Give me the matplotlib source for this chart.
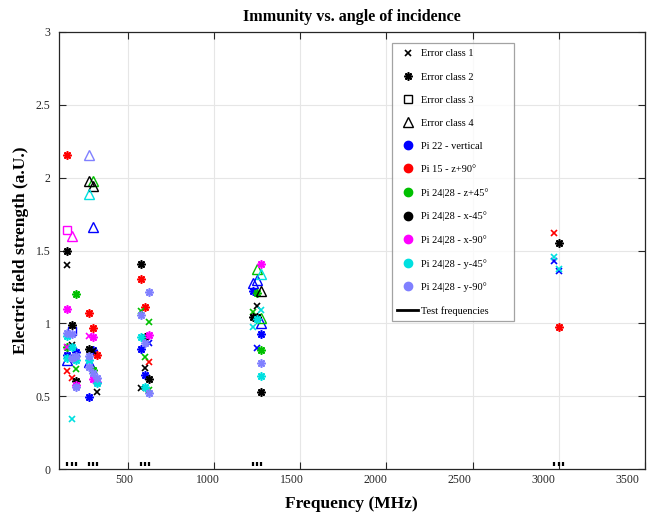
import matplotlib
matplotlib.use("Agg")
import matplotlib.pyplot as plt
from matplotlib.lines import Line2D
from matplotlib.transforms import ScaledTranslation

plt.rcParams['font.family'] = ['Liberation Serif', 'DejaVu Serif']

# Test frequencies (MHz)
test_freqs = [150, 175, 200, 275, 300, 325, 575, 600, 625, 1225, 1250, 1275, 2975, 3000, 3025]

# Per probe: frequency (MHz), field strength (a.U.), error class
pi22_f = [175, 150, 300, 275, 150, 200, 300, 275, 575, 600, 625, 1225, 1250, 1275, 1225, 1275, 1250, 2975, 3000]
pi22_v = [0.947, 0.748, 1.663, 0.737, 0.78, 0.805, 0.82, 0.497, 0.822, 0.645, 0.863, 1.28, 1.30, 1.004, 1.224, 0.927, 0.833, 1.43, 1.36]
pi22_c = [3, 4, 4, 4, 2, 2, 2, 2, 2, 2, 1, 4, 4, 4, 2, 2, 1, 1, 1]

pi15_f = [150, 150, 175, 275, 300, 325, 575, 600, 625, 2975, 3000]
pi15_v = [2.156, 0.673, 0.627, 1.069, 0.966, 0.785, 1.302, 1.11, 0.737, 1.62, 0.973]
pi15_c = [2, 1, 1, 2, 2, 2, 2, 2, 1, 1, 2]

z45_f = [200, 150, 200, 300, 300, 575, 625, 600, 625, 1250, 1250, 1225, 1275, 1275]
z45_v = [1.199, 0.84, 0.684, 1.98, 0.68, 1.087, 1.007, 0.767, 0.542, 1.373, 1.21, 1.08, 1.04, 0.817]
z45_c = [2, 2, 1, 4, 2, 1, 1, 1, 1, 4, 2, 1, 4, 2]

xm45_f = [150, 150, 175, 175, 200, 275, 300, 275, 300, 325, 575, 600, 600, 625, 575, 1250, 1225, 1250, 1275, 1275, 3000]
xm45_v = [1.497, 1.398, 0.989, 0.851, 0.604, 1.977, 1.94, 0.822, 0.81, 0.526, 1.407, 0.904, 0.696, 0.618, 0.554, 1.121, 1.046, 1.046, 1.224, 0.526, 1.55]
xm45_c = [2, 1, 2, 1, 2, 4, 4, 2, 1, 1, 2, 2, 1, 2, 1, 1, 2, 2, 4, 2, 2]

xm90_f = [150, 175, 150, 150, 275, 300, 200, 300, 325, 625, 1275]
xm90_v = [1.64, 1.60, 1.096, 0.835, 0.913, 0.904, 0.58, 0.62, 0.60, 0.92, 1.405]
xm90_c = [3, 4, 2, 1, 1, 2, 2, 2, 2, 2, 2]

ym45_f = [150, 175, 175, 150, 200, 275, 275, 325, 575, 600, 1275, 1275, 1225, 1250, 1275, 2975, 3000]
ym45_v = [0.913, 0.835, 0.343, 0.76, 0.75, 1.886, 0.75, 0.59, 0.904, 0.56, 1.336, 1.09, 0.977, 1.03, 0.641, 1.455, 1.375]
ym45_c = [2, 2, 1, 2, 2, 4, 2, 2, 2, 2, 4, 1, 1, 2, 2, 1, 1]

ym90_f = [275, 150, 175, 200, 200, 275, 275, 300, 325, 575, 600, 625, 625, 1275, 175]
ym90_v = [2.156, 0.935, 0.93, 0.776, 0.565, 0.776, 0.70, 0.66, 0.625, 1.06, 0.863, 1.217, 0.52, 0.725, 0.76]
ym90_c = [4, 2, 2, 2, 2, 2, 2, 2, 2, 2, 2, 2, 2, 2, 2]

probe_names = ['Pi 22 - vertical', 'Pi 15 - z+90°', 'Pi 24|28 - z+45°', 'Pi 24|28 - x-45°',
               'Pi 24|28 - x-90°', 'Pi 24|28 - y-45°', 'Pi 24|28 - y-90°']
probe_colors = ['#0000ff', '#ff0000', '#00c000', '#000000', '#ff00ff', '#00e0e0', '#8080ff']
class_names = ['Error class 1', 'Error class 2', 'Error class 3', 'Error class 4']

x_ticks = [500, 1000, 1500, 2000, 2500, 3000, 3500]
y_ticks = [0, 0.5, 1, 1.5, 2, 2.5, 3]
y_tick_labels = ['0', '0.5', '1', '1.5', '2', '2.5', '3']

probes = [(pi22_f, pi22_v, pi22_c), (pi15_f, pi15_v, pi15_c), (z45_f, z45_v, z45_c),
          (xm45_f, xm45_v, xm45_c), (xm90_f, xm90_v, xm90_c), (ym45_f, ym45_v, ym45_c),
          (ym90_f, ym90_v, ym90_c)]

ASTER = (8, 2, 0)
marker_style = {
    1: dict(marker='x', ms=4.5, mew=1.2),
    2: dict(marker=ASTER, ms=6, mew=1.2),
    3: dict(marker='s', ms=6, mew=1.0, mfc='none'),
    4: dict(marker='^', ms=7.5, mew=1.0, mfc='none'),
}

fig = plt.figure(figsize=(6.53, 5.14), dpi=100)
ax = fig.add_axes([58.7 / 653, 1 - 469 / 514, (645 - 58.7) / 653, (469 - 32) / 514])

for (fr, vals, cls), col in zip(probes, probe_colors):
    for f, v, c in zip(fr, vals, cls):
        st = marker_style[c]
        ax.plot([f], [v], linestyle='none', color=col, mec=col, zorder=3, **st)

for f in test_freqs:
    ax.plot([f, f], [0.02, 0.05], color='black', lw=1.6, solid_capstyle='butt', zorder=3)

ax.set_xlim(100, 3500)
ax.set_ylim(0, 3)
ax.set_xticks(x_ticks)
ax.set_yticks(y_ticks)
ax.set_yticklabels(y_tick_labels)
ax.grid(True, color='#e6e6e6', lw=0.8)
ax.set_axisbelow(True)
ax.tick_params(direction='in', length=5, width=0.8, top=True, right=True, labelsize=8.5, colors='#262626')
ax.tick_params(axis='y', pad=6)
for sp in ax.spines.values():
    sp.set_color('#262626')
    sp.set_linewidth(0.9)

# x tick labels sit progressively left of their ticks in the reference
for lab, v in zip(ax.get_xticklabels(), x_ticks):
    dx = -(3.7 + (v - 500) / 3000 * 14.3) / 100.0
    lab.set_transform(lab.get_transform() + ScaledTranslation(dx, 0, fig.dpi_scale_trans))

ax.set_title('Immunity vs. angle of incidence', fontsize=11.6, fontweight='bold', pad=8)
ax.set_xlabel('Frequency (MHz)', fontsize=12.5, fontweight='bold', labelpad=7)
ax.set_ylabel('Electric field strength (a.U.)', fontsize=12.5, fontweight='bold', labelpad=5)

handles = []
for k in range(4):
    st = dict(marker_style[k + 1])
    handles.append(Line2D([], [], linestyle='none', color='black', mec='black', **st))
for col in probe_colors:
    handles.append(Line2D([], [], linestyle='none', marker='o', ms=6, color=col, mec=col))
handles.append(Line2D([], [], color='black', lw=2))
labels = class_names + probe_names + ['Test frequencies']

leg = ax.legend(handles, labels, loc='upper left', bbox_to_anchor=(0.568, 0.326, 0.209, 0.648),
                mode='expand', borderaxespad=0,
                fontsize=7.5, labelspacing=1.33, handlelength=2.0, handletextpad=0.25,
                frameon=True, fancybox=False, borderpad=0.55, edgecolor='#8c8c8c')
leg.get_frame().set_linewidth(0.9)

fig.savefig('out.png', dpi=100)
